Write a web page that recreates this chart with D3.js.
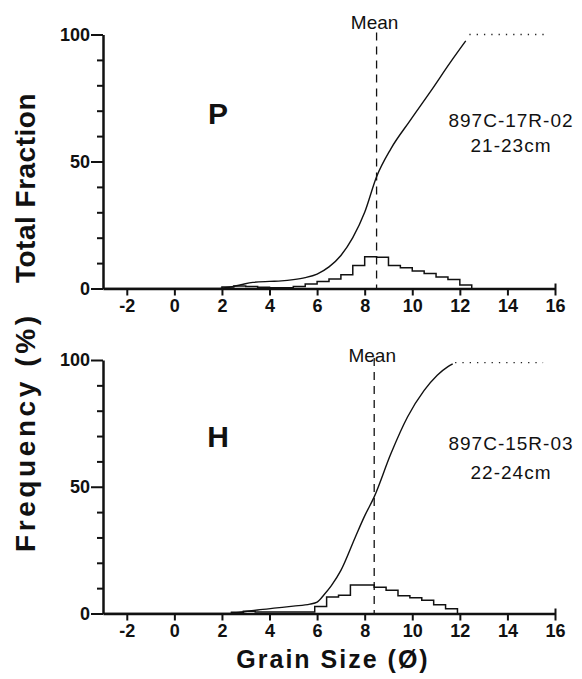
<!DOCTYPE html>
<html>
<head>
<meta charset="utf-8">
<script src="https://cdn.jsdelivr.net/npm/d3@7"></script>
<style>
body { margin: 0; background: #fff; }
svg { display: block; }
text { font-family: "Liberation Sans", Arial, Helvetica, sans-serif; fill: #111; }
.axis text { font-size: 18px; font-weight: bold; }
.axis path, .axis line { stroke: #111; }
</style>
</head>
<body>
<div id="chart"></div>
<script>
var xTicks = [-2, 0, 2, 4, 6, 8, 10, 12, 14, 16];
var yMajor = [0, 50, 100];
var yMinor = [10, 20, 30, 40, 60, 70, 80, 90];
var binWidth = 0.5;

// P : 897C-17R-02, 21-23cm
var binsP = [2.0, 2.5, 3.0, 3.5, 4.0, 4.5, 5.0, 5.5, 6.0, 6.5, 7.0, 7.5, 8.0, 8.5, 9.0, 9.5, 10.0, 10.5, 11.0, 11.5, 12.0];
var freqP = [0.6, 1.0, 0.8, 0.5, 0.3, 0.3, 0.8, 1.8, 2.8, 3.7, 5.4, 9.1, 12.5, 12.3, 9.1, 8.2, 6.9, 5.9, 4.5, 3.5, 1.4];
var cumXP = [-3, 1.8, 2.3, 2.8, 3.3, 4.0, 4.5, 5.0, 5.5, 6.0, 6.5, 7.0, 7.5, 8.0, 8.5, 9.1, 9.9, 10.8, 11.6, 12.25];
var cumYP = [0, 0, 0.5, 1.5, 2.4, 2.8, 3.0, 3.5, 4.3, 5.7, 8.5, 13, 20, 30, 44, 55, 66, 78, 89, 97.5];
var meanP = 8.5;
var plateauXP = [12.4, 15.7];
var plateauYP = 100;

// H : 897C-15R-03, 22-24cm
var binsH = [2.4, 2.9, 3.4, 3.9, 4.4, 4.9, 5.4, 5.9, 6.4, 6.9, 7.4, 7.9, 8.4, 8.9, 9.4, 9.9, 10.4, 10.9, 11.4];
var freqH = [0.5, 0.9, 0.6, 0.6, 0.6, 0.6, 0.6, 2.8, 6.5, 7.2, 11.2, 11.2, 10.4, 9.2, 7.0, 6.2, 5.2, 3.5, 1.9];
var cumXH = [-3, 2.2, 2.6, 3.0, 3.5, 4.3, 5.0, 5.7, 6.0, 6.3, 6.6, 7.0, 7.6, 8.0, 8.4, 9.1, 9.8, 10.5, 11.05, 11.5, 11.7];
var cumYH = [0, 0, 0.3, 0.8, 1.4, 2.2, 2.9, 3.7, 4.5, 7.5, 11, 17, 30, 38.5, 46, 63, 77.5, 88, 94, 97.4, 98.5];
var meanH = 8.4;
var plateauXH = [11.8, 15.5];
var plateauYH = 99;

var width = 582, height = 679;

var panels = [
    {letter: "P", sample: "897C-17R-02", depth: "21-23cm", bins: binsP, freq: freqP,
     cumX: cumXP, cumY: cumYP, mean: meanP, plateauX: plateauXP, plateauY: plateauYP,
     top: 34.5, bottom: 288.5, sampleY: 127, depthY: 152, letterY: 124, meanY: 29},
    {letter: "H", sample: "897C-15R-03", depth: "22-24cm", bins: binsH, freq: freqH,
     cumX: cumXH, cumY: cumYH, mean: meanH, plateauX: plateauXH, plateauY: plateauYH,
     top: 360, bottom: 613.5, sampleY: 450, depthY: 479, letterY: 447, meanY: 362}
];

var x = d3.scaleLinear()
        .domain([-3, 16])
        .range([103, 555]);

var svg = d3.select("#chart").append("svg")
        .attr("width", width)
        .attr("height", height);

function drawPanel(p) {
    var y = d3.scaleLinear()
            .domain([0, 100])
            .range([p.bottom, p.top]);

    var g = svg.append("g");

    // histogram outline
    var pts = [[p.bins[0], 0]];
    p.bins.forEach(function(b, i) { pts.push([b, p.freq[i]]); });
    pts.push([p.bins[p.bins.length - 1] + binWidth, 0]);

    var step = d3.line()
            .x(function(d) { return x(d[0]); })
            .y(function(d) { return y(d[1]); })
            .curve(d3.curveStepAfter);

    g.append("path")
            .attr("d", step(pts))
            .attr("fill", "none")
            .attr("stroke", "#111")
            .attr("stroke-width", 1.5);

    // cumulative curve
    var line = d3.line()
            .x(function(d, i) { return x(p.cumX[i]); })
            .y(function(d) { return y(d); })
            .curve(d3.curveMonotoneX);

    g.append("path")
            .attr("d", line(p.cumY))
            .attr("fill", "none")
            .attr("stroke", "#111")
            .attr("stroke-width", 1.4);

    g.append("line")
            .attr("x1", x(p.plateauX[0]))
            .attr("x2", x(p.plateauX[1]))
            .attr("y1", y(p.plateauY))
            .attr("y2", y(p.plateauY))
            .attr("stroke", "#222")
            .attr("stroke-width", 1.3)
            .attr("stroke-dasharray", "1.3,6");

    // mean
    g.append("line")
            .attr("x1", x(p.mean))
            .attr("x2", x(p.mean))
            .attr("y1", y(100) - 2)
            .attr("y2", y(0))
            .attr("stroke", "#111")
            .attr("stroke-width", 1.3)
            .attr("stroke-dasharray", "8,6");

    g.append("text")
            .attr("x", x(p.mean) - 2)
            .attr("y", p.meanY)
            .attr("text-anchor", "middle")
            .style("font-size", "19px")
            .text("Mean");

    // axes
    var xAxis = d3.axisBottom(x)
            .tickValues(xTicks)
            .tickSize(7)
            .tickSizeOuter(0)
            .tickPadding(4)
            .tickFormat(String);

    g.append("g")
            .attr("class", "axis")
            .attr("transform", "translate(0," + y(0) + ")")
            .call(xAxis)
            .call(function(a) {
                a.select(".domain").attr("stroke-width", 2.5);
                a.selectAll(".tick line").attr("stroke-width", 2);
                a.selectAll(".tick").filter(function(d) { return d === 16; })
                        .select("line").attr("y1", -5);
            });

    g.append("g")
            .attr("class", "axis")
            .attr("transform", "translate(" + x(-3) + ",0)")
            .call(d3.axisLeft(y).tickValues(yMinor).tickSize(6).tickSizeOuter(0).tickFormat(""))
            .call(function(a) {
                a.select(".domain").attr("stroke-width", 2.5);
                a.selectAll(".tick line").attr("stroke-width", 2);
            });

    g.append("g")
            .attr("class", "axis")
            .attr("transform", "translate(" + x(-3) + ",0)")
            .call(d3.axisLeft(y).tickValues(yMajor).tickSize(12).tickSizeOuter(0).tickPadding(1).tickFormat(String))
            .call(function(a) {
                a.select(".domain").remove();
                a.selectAll(".tick line").attr("stroke-width", 2);
            });

    // labels
    g.append("text")
            .attr("x", 218)
            .attr("y", p.letterY)
            .attr("text-anchor", "middle")
            .style("font-size", "30px")
            .style("font-weight", "bold")
            .text(p.letter);

    g.append("text")
            .attr("x", 511)
            .attr("y", p.sampleY)
            .attr("text-anchor", "middle")
            .style("font-size", "19px")
            .style("letter-spacing", "1px")
            .text(p.sample);

    g.append("text")
            .attr("x", 511)
            .attr("y", p.depthY)
            .attr("text-anchor", "middle")
            .style("font-size", "19px")
            .style("letter-spacing", "1px")
            .text(p.depth);
}

panels.forEach(drawPanel);

svg.append("text")
        .attr("x", 333)
        .attr("y", 668)
        .attr("text-anchor", "middle")
        .style("font-size", "25px")
        .style("font-weight", "bold")
        .style("letter-spacing", "2px")
        .text("Grain Size (\u00D8)");

svg.append("text")
        .attr("transform", "translate(35,552) rotate(-90)")
        .attr("text-anchor", "start")
        .style("font-size", "28px")
        .style("font-weight", "bold")
        .attr("textLength", 236)
        .attr("lengthAdjust", "spacing")
        .text("Frequency (%)");

svg.append("text")
        .attr("transform", "translate(35,93) rotate(-90)")
        .attr("text-anchor", "end")
        .style("font-size", "28px")
        .style("font-weight", "bold")
        .style("letter-spacing", "0.5px")
        .text("Total Fraction");
</script>
</body>
</html>
